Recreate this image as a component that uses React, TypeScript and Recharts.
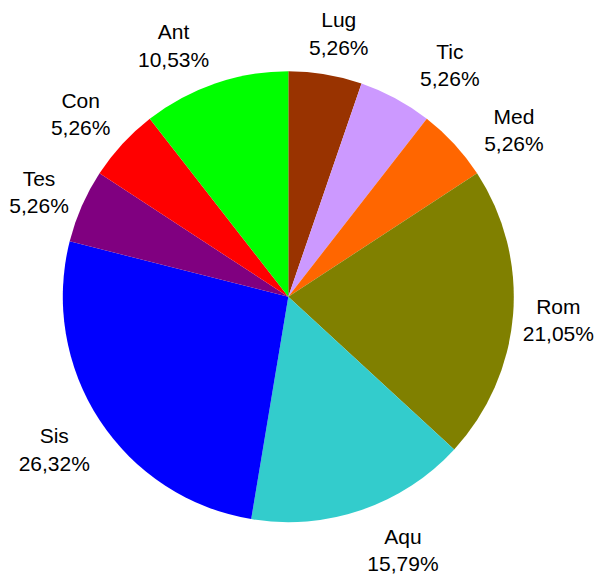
import { PieChart, Pie, Cell } from 'recharts'

const categories = ['Lug', 'Tic', 'Med', 'Rom', 'Aqu', 'Sis', 'Tes', 'Con', 'Ant'];
const counts = [1, 1, 1, 4, 3, 5, 1, 1, 2];
const sliceColors = ['#993300', '#CC99FF', '#FF6600', '#808000', '#33CCCC', '#0000FF', '#800080', '#FF0000', '#00FF00'];

// small per-label nudges (px) so the text sits where the original put it
const labelShift = [
  [6, 3], [33, 6], [27, 16], [1, 1], [27, -2], [-8, 5], [-2, 4], [-9, 0], [-27, 4],
];

const data = categories.map((name, i) => ({ name, value: counts[i] }));

const RADIAN = Math.PI / 180;
const renderLabel = ({ cx, cy, midAngle, percent, index, name }: any) => {
  const r = 270;
  const x = cx + r * Math.cos(-midAngle * RADIAN) + labelShift[index][0];
  const y = cy + r * Math.sin(-midAngle * RADIAN) + labelShift[index][1];
  const pct = (percent * 100).toFixed(2).replace('.', ',') + '%';
  return (
    <g>
      <text x={x} y={y - 6.25} textAnchor="middle" fill="#000" fontSize={21} fontFamily="'Liberation Sans', Arial, sans-serif">
        {name}
      </text>
      <text x={x} y={y + 21.25} textAnchor="middle" fill="#000" fontSize={21} fontFamily="'Liberation Sans', Arial, sans-serif">
        {pct}
      </text>
    </g>
  );
};

export default function App() {
  return (
    <div style={{ position: 'absolute', left: 0, top: 0, background: '#fff' }}>
      <PieChart width={597} height={579} margin={{ top: 0, right: 0, bottom: 0, left: 0 }}>
        <Pie
          data={data}
          dataKey="value"
          nameKey="name"
          cx={288.3}
          cy={296.7}
          outerRadius={225.5}
          startAngle={90}
          endAngle={-270}
          stroke="none"
          labelLine={false}
          label={renderLabel}
          isAnimationActive={false}
        >
          {data.map((entry, i) => (
            <Cell key={`cell-${i}`} fill={sliceColors[i]} />
          ))}
        </Pie>
      </PieChart>
    </div>
  )
}
